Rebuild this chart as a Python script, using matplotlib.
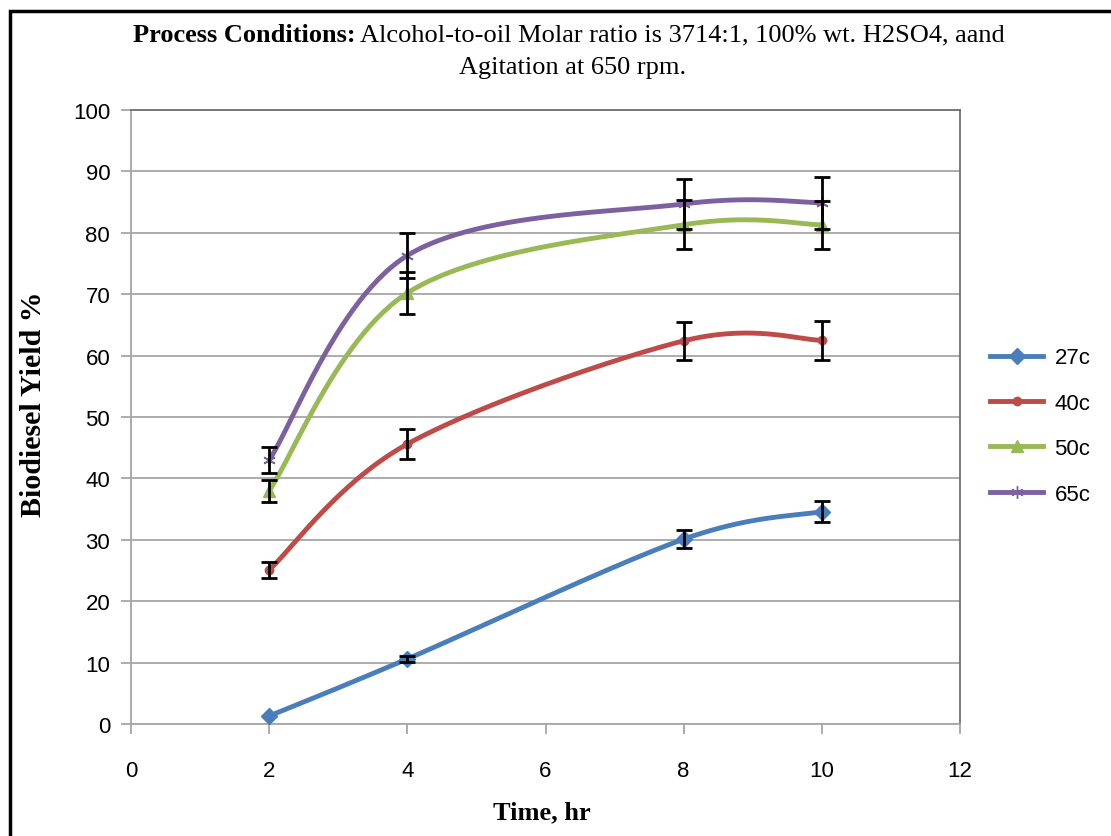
import numpy as np
import matplotlib
matplotlib.use("Agg")
import matplotlib.pyplot as plt
from matplotlib.patches import Rectangle
from matplotlib.lines import Line2D

time = [2, 4, 8, 10]
series_names = ["27c", "40c", "50c", "65c"]
y27 = [1.3, 10.6, 30.1, 34.6]
e27 = [0.0, 0.5, 1.45, 1.75]
y40 = [25.1, 45.6, 62.4, 62.5]
e40 = [1.25, 2.4, 3.15, 3.15]
y50 = [38.0, 70.2, 81.3, 81.3]
e50 = [1.8, 3.4, 4.0, 3.9]
y65 = [43.0, 76.3, 84.7, 84.9]
e65 = [2.1, 3.7, 4.1, 4.2]

colors = ["#4A7EBB", "#BE4B48", "#98B954", "#7D60A0"]
markers = ["D", "o", "^", (6, 2, 0)]
msizes = [8, 6, 9, 9]


def excel_smooth(x, y, n=60):
    x = np.asarray(x, float); y = np.asarray(y, float)
    P = np.column_stack([x, y])
    ext = np.vstack([P[0], P, P[-1]])
    out = []
    for i in range(len(P) - 1):
        p0, p1, p2, p3 = ext[i], ext[i + 1], ext[i + 2], ext[i + 3]
        c1 = p1 + (p2 - p0) / 6.0
        c2 = p2 - (p3 - p1) / 6.0
        t = np.linspace(0, 1, n)[:, None]
        seg = ((1 - t) ** 3) * p1 + 3 * ((1 - t) ** 2) * t * c1 + 3 * (1 - t) * t ** 2 * c2 + t ** 3 * p2
        out.append(seg if i == 0 else seg[1:])
    out = np.vstack(out)
    return out[:, 0], out[:, 1]


fig = plt.figure(figsize=(11.11, 8.37), dpi=100)
ax = fig.add_axes([131 / 1111, 1 - 725 / 837, (960 - 131) / 1111, (725 - 111) / 837])

# outer frame
fig.patches.append(Rectangle((10 / 1111, -0.01), 1.2, 1 - 12 / 837 + 0.01,
                             transform=fig.transFigure, fill=False,
                             edgecolor="black", linewidth=2.5))

for ys, es, c, m, ms, name in zip([y27, y40, y50, y65], [e27, e40, e50, e65],
                                   colors, markers, msizes, series_names):
    sx, sy = excel_smooth(time, ys)
    ax.plot(sx, sy, color=c, lw=3.5, zorder=3, solid_capstyle="round")
    ax.plot(time, ys, linestyle="none", color=c, marker=m, markersize=ms,
            markeredgecolor=c, markeredgewidth=1.0 if m != (6, 2, 0) else 1.2,
            zorder=4)
    t_arr = np.array(time); y_arr = np.array(ys); e_arr = np.array(es)
    mask = e_arr > 0
    ax.errorbar(t_arr[mask], y_arr[mask], yerr=e_arr[mask], fmt="none",
                ecolor="black", elinewidth=2.0, capsize=6, capthick=2.0, zorder=5)

ax.set_xlim(0, 12)
ax.set_ylim(0, 100)
ax.set_xticks(range(0, 13, 2))
ax.set_yticks(range(0, 101, 10))
ax.yaxis.grid(True, color="#A6A6A6", lw=1.3, zorder=0)
ax.set_axisbelow(True)
for s in ["left", "bottom"]:
    ax.spines[s].set_color("#A6A6A6")
    ax.spines[s].set_linewidth(1.3)
for s in ["top", "right"]:
    ax.spines[s].set_color("#707070")
    ax.spines[s].set_linewidth(1.3)
ax.tick_params(direction="out", length=7, width=1.3, color="#A6A6A6",
               labelsize=16)
ax.tick_params(axis="x", pad=19)
ax.tick_params(axis="y", pad=8)
for lab in ax.get_xticklabels() + ax.get_yticklabels():
    lab.set_fontfamily("Liberation Sans")

ax.set_xlabel("Time, hr", fontfamily="Liberation Serif", fontweight="bold",
              fontsize=19)
ax.xaxis.set_label_coords(0.496, -0.125)
ax.set_ylabel("Biodiesel Yield %", fontfamily="Liberation Serif", fontweight="bold",
              fontsize=21.5)
ax.yaxis.set_label_coords(-0.101, 0.523)

# title
ty1 = 1 - 35 / 837
bold = fig.text(133 / 1111, ty1, "Process Conditions:", fontfamily="Liberation Serif",
                fontweight="bold", fontsize=19, va="center", ha="left")
fig.canvas.draw()
r = bold.get_window_extent(renderer=fig.canvas.get_renderer())
fig.text(r.x1 / 1111 + 0.004, ty1,
         "Alcohol-to-oil Molar ratio is 3714:1, 100% wt. H2SO4, aand",
         fontfamily="Liberation Serif", fontsize=19, va="center", ha="left")
fig.text(573 / 1111, 1 - 68 / 837, "Agitation at 650 rpm.",
         fontfamily="Liberation Serif", fontsize=19, va="center", ha="center")

# legend
leg_handles = [Line2D([0], [0], color=c, lw=3.5, marker=m, markersize=ms,
                      markeredgecolor=c) for c, m, ms in zip(colors, markers, msizes)]
fig.legend(leg_handles, series_names, loc="center left",
           bbox_to_anchor=(970 / 1111, 1 - 427 / 837), frameon=False,
           prop={"family": "Liberation Sans", "size": 16},
           handlelength=2.4, labelspacing=1.1, handletextpad=0.5)

fig.savefig("out.png", dpi=100)
